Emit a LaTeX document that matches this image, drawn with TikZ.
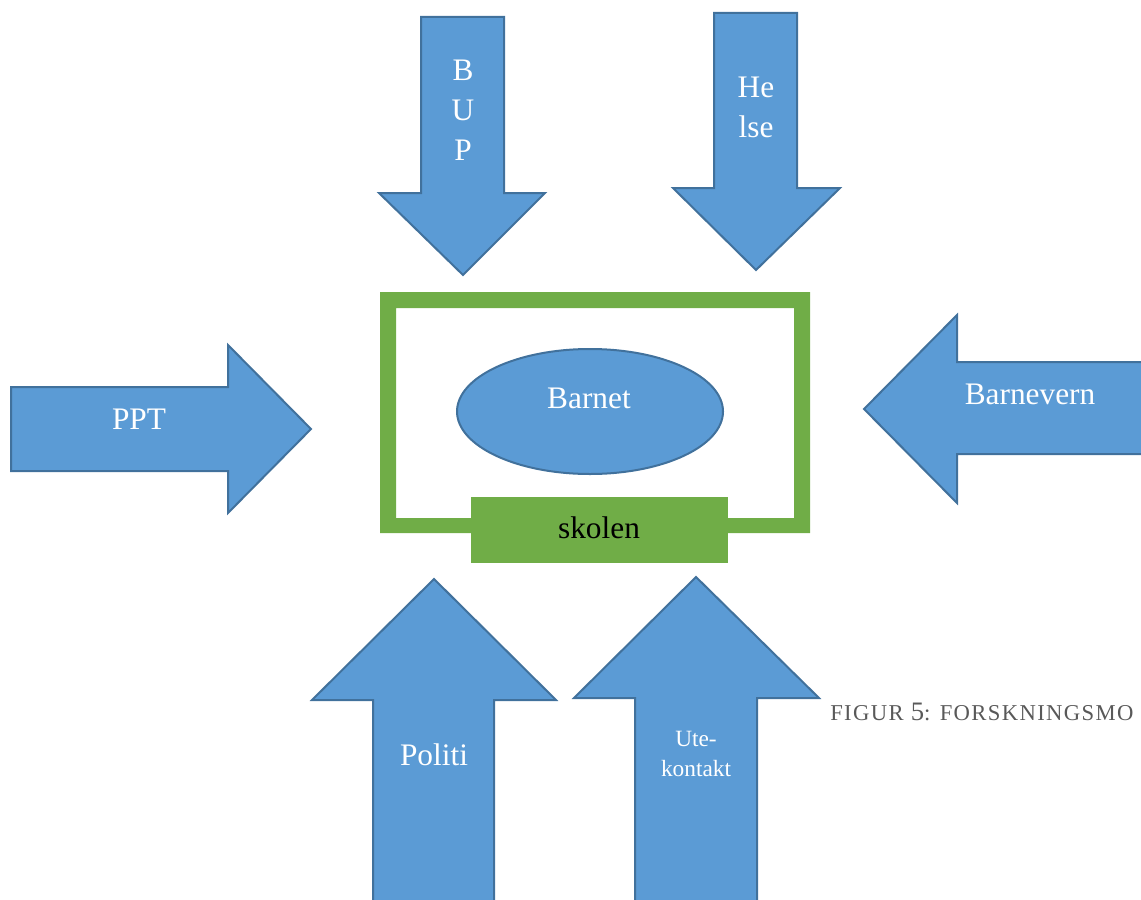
\documentclass[tikz,border=0pt]{standalone}
\usepackage{fontspec}
\setmainfont{Liberation Serif}
\definecolor{pilblue}{RGB}{91,155,213}
\definecolor{pilline}{RGB}{65,113,156}
\definecolor{skolegreen}{RGB}{112,173,71}
\definecolor{captgray}{RGB}{89,89,89}
\tikzset{
  pil/.style={fill=pilblue,draw=pilline,line width=1.5pt,line join=miter},
  piltext/.style={text=white,font=\fontsize{23.5}{30}\selectfont,align=center,inner sep=0pt,anchor=base},
  smalltext/.style={text=white,font=\fontsize{17.5}{22}\selectfont,align=center,inner sep=0pt,anchor=base}
}
\begin{document}
\begin{tikzpicture}[x=0.75pt,y=-0.75pt]
\useasboundingbox (0,0) rectangle (1141,899);
\clip (0,0) rectangle (1141,899);
\draw[pil] (421,17) -- (504,17) -- (504,193) -- (545,193) -- (463,275) -- (379,193) -- (421,193) -- cycle;
\node[piltext] (bup) at (463,160) {B\\U\\P};
\draw[pil] (714,13) -- (797,13) -- (797,188) -- (840,188) -- (756,270) -- (673,188) -- (714,188) -- cycle;
\node[piltext] (helse) at (756,137) {He\\lse};
\draw[pil] (11,387) -- (228,387) -- (228,345) -- (311,429) -- (228,513) -- (228,471) -- (11,471) -- cycle;
\node[piltext] (ppt) at (139,429) {PPT};
\draw[pil] (1160,362) -- (957,362) -- (957,315) -- (864,409) -- (957,503) -- (957,454) -- (1160,454) -- cycle;
\node[piltext] (barnevern) at (1030,404) {Barnevern};
\draw[pil] (373,920) -- (373,700) -- (312,700) -- (434,579) -- (556,700) -- (494,700) -- (494,920) -- cycle;
\node[piltext] (politi) at (434,765) {Politi};
\draw[pil] (635,920) -- (635,698) -- (574,698) -- (696,577) -- (819,698) -- (757,698) -- (757,920) -- cycle;
\node[smalltext] (ute) at (696,776) {Ute-\\kontakt};
\fill[skolegreen,even odd rule] (380,292) rectangle (810,533) (396,308) rectangle (794,518);
\draw[pil] (590,411.5) ellipse [x radius=133,y radius=62.5];
\node[piltext] (barnet) at (589,408) {Barnet};
\fill[skolegreen] (471,497) rectangle (728,563);
\node[piltext,text=black] (skolen) at (599,538) {skolen};
\node[anchor=base west,inner sep=0pt,text=captgray,font=\fontsize{17}{20}\selectfont\addfontfeature{LetterSpace=6}] (figur) at (830,720)
  {FIGUR {\fontsize{20}{24}\selectfont 5}: FORSKNINGSMO};
\end{tikzpicture}
\end{document}
